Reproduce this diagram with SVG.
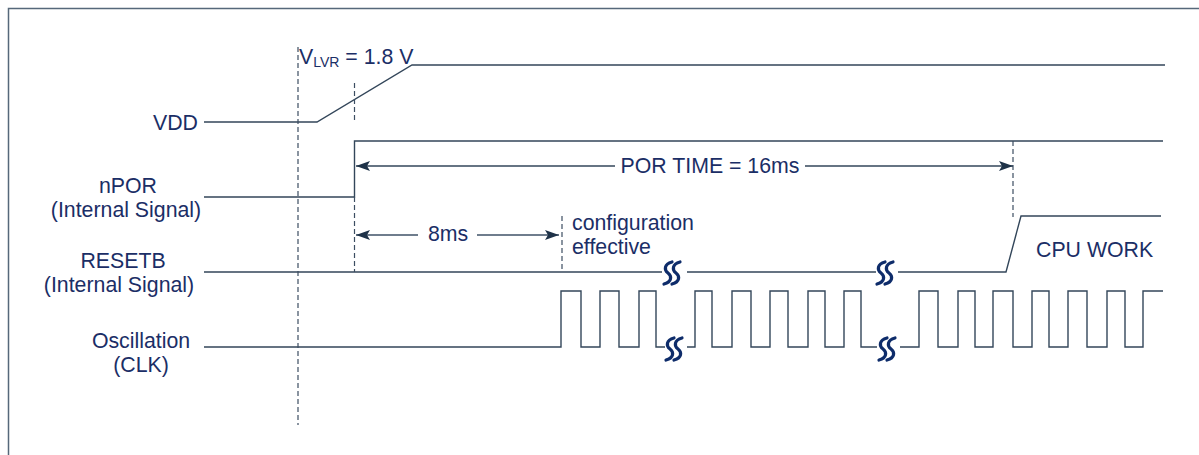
<svg xmlns="http://www.w3.org/2000/svg" width="1199" height="455" viewBox="0 0 1199 455">
<defs>
<style>
.lbl{font-family:"Liberation Sans",Arial,sans-serif;font-size:21.3px;fill:#1b2e66}
.mid{text-anchor:middle}
.sig{fill:none;stroke:#33465a;stroke-width:1.4}
.dash{fill:none;stroke:#3c4e62;stroke-width:1.2;stroke-dasharray:5,3}
.dim{fill:none;stroke:#33465a;stroke-width:1.4}
.dim2{fill:none;stroke:#6f7d8d;stroke-width:2}
.brk{fill:none;stroke:#0e2c6a;stroke-width:3.2;stroke-linecap:round}
</style>
<marker id="ah" viewBox="0 0 14 10" refX="14" refY="5" markerWidth="14" markerHeight="10" markerUnits="userSpaceOnUse" orient="auto-start-reverse">
<path d="M0,0 L14,5 L0,10 L3,5 Z" fill="#1e3248"/>
</marker>
<g id="brkshape">
<path class="brk" d="M4,0 C-4,2 -4,8 0,11 C4,14 4,20 -4,22"/>
<path class="brk" d="M12,0 C4,2 4,8 8,11 C12,14 12,20 4,22"/>
</g>
</defs>
<rect width="1199" height="455" fill="#ffffff"/>
<g id="frame">
<path d="M8.5,455 L8.5,8.5 L1199,8.5" fill="none" stroke="#56687a" stroke-width="1.5"/>
</g>
<g id="labels">
<text class="lbl" x="198" y="130" text-anchor="end">VDD</text>
<text class="lbl mid" x="128" y="193">nPOR</text>
<text class="lbl mid" x="126" y="217">(Internal Signal)</text>
<text class="lbl mid" x="123" y="268">RESETB</text>
<text class="lbl mid" x="119" y="292">(Internal Signal)</text>
<text class="lbl mid" x="141" y="348">Oscillation</text>
<text class="lbl mid" x="141" y="372">(CLK)</text>
</g>
<g id="vlvr">
<text class="lbl" x="299" y="64">V<tspan font-size="14" dy="3">LVR</tspan><tspan dy="-3"> = 1.8 V</tspan></text>
</g>
<g id="signals">
<path id="vdd" class="sig" d="M204,122 L317,122 L412,65 L1165,65"/>
<path id="npor" class="sig" d="M204,197 L354.5,197 L354.5,141 L1163,141"/>
<path id="resetb" class="sig" d="M204,272 L662,272 M687,272 L876,272 M898,272 L1006,272 L1021,216 L1161,216"/>
<path id="clk" class="sig" d="M204,347 L561,347 L561,291 L581,291 L581,347 L600,347 L600,291 L619,291 L619,347 L639,347 L639,291 L656,291 L656,347 L665,347 M687,347 L695,347 L695,291 L712,291 L712,347 L732,347 L732,291 L751,291 L751,347 L770,347 L770,291 L788,291 L788,347 L808,347 L808,291 L825,291 L825,347 L844,347 L844,291 L861,291 L861,347 L877,347 M900,347 L919,347 L919,291 L938,291 L938,347 L958,347 L958,291 L975,291 L975,347 L993,347 L993,291 L1013,291 L1013,347 L1032,347 L1032,291 L1049,291 L1049,347 L1068,347 L1068,291 L1087,291 L1087,347 L1107,347 L1107,291 L1125,291 L1125,347 L1143,347 L1143,291 L1163,291"/>
</g>
<g id="breaks">
<use href="#brkshape" x="668" y="262"/>
<use href="#brkshape" x="881" y="262"/>
<use href="#brkshape" x="670" y="338"/>
<use href="#brkshape" x="883" y="338"/>
</g>
<g id="connectors">
<line class="dash" x1="298" y1="47" x2="298" y2="425"/>
<line class="dash" x1="354.5" y1="83" x2="354.5" y2="121"/>
<line class="dash" x1="354.5" y1="197" x2="354.5" y2="272"/>
<line class="dash" x1="562" y1="216" x2="562" y2="272"/>
<line class="dash" x1="1013" y1="141" x2="1013" y2="217"/>
<line class="dim" x1="356" y1="166" x2="615" y2="166" marker-start="url(#ah)"/>
<line class="dim" x1="805" y1="166" x2="1013" y2="166" marker-end="url(#ah)"/>
<line class="dim2" x1="356" y1="235" x2="418" y2="235" marker-start="url(#ah)"/>
<line class="dim2" x1="477" y1="235" x2="559" y2="235" marker-end="url(#ah)"/>
</g>
<g id="annotations">
<text class="lbl" x="710" y="173" text-anchor="middle">POR TIME = 16ms</text>
<text class="lbl" x="448" y="241" text-anchor="middle">8ms</text>
<text class="lbl" x="572" y="230">configuration</text>
<text class="lbl" x="572" y="254">effective</text>
<text class="lbl" x="1036" y="257">CPU WORK</text>
</g>
</svg>
